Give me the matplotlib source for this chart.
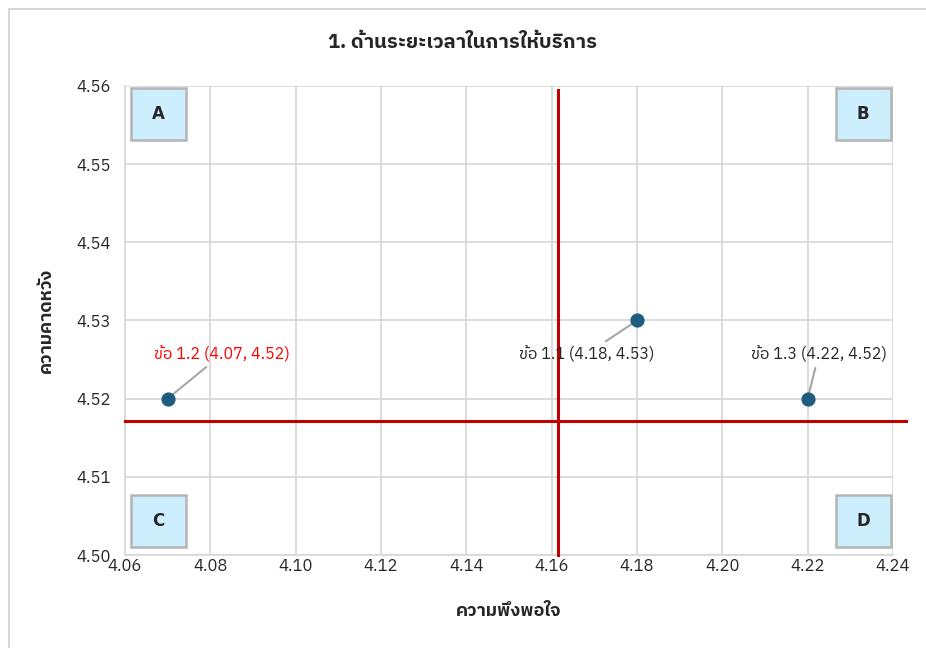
import matplotlib.pyplot as plt
from matplotlib.patches import Rectangle
from matplotlib import font_manager
from matplotlib.ft2font import FT2Font

# find an installed family that has Thai glyphs
thai_family = None
for f in font_manager.fontManager.ttflist:
    try:
        if ord('ก') in FT2Font(f.fname).get_charmap():
            thai_family = f.name
            if 'Sans' in f.name:
                break
    except Exception:
        pass

fams = ['DejaVu Sans']
if thai_family:
    fams = [thai_family, 'DejaVu Sans']
plt.rcParams['font.family'] = fams

# data
labels = ['ข้อ 1.1 (4.18, 4.53)', 'ข้อ 1.2 (4.07, 4.52)', 'ข้อ 1.3 (4.22, 4.52)']
sat = [4.18, 4.07, 4.22]
exp = [4.53, 4.52, 4.52]
label_colors = ['#262626', '#ff0000', '#262626']
label_offsets = [(-36, -24), (39, 32), (8, 32)]
mean_x = 4.1615
mean_y = 4.5171
quadrants = ['A', 'B', 'C', 'D']
xticks = [4.06, 4.08, 4.10, 4.12, 4.14, 4.16, 4.18, 4.20, 4.22, 4.24]
yticks = [4.50, 4.51, 4.52, 4.53, 4.54, 4.55, 4.56]

fig = plt.figure(figsize=(9.26, 6.48), dpi=100)
fig.patches.append(Rectangle((9/926, -0.1), 1.2, 1.1 - 9/648, transform=fig.transFigure,
                             fill=False, edgecolor='#d0d0d0', lw=1.2))
ax = fig.add_axes([125/926, 1 - 555/648, 768/926, 469/648])

ax.set_xlim(4.06, 4.24)
ax.set_ylim(4.50, 4.56)
ax.set_xticks(xticks)
ax.set_yticks(yticks)
ax.set_xticklabels([f'{v:.2f}' for v in xticks])
ax.set_yticklabels([f'{v:.2f}' for v in yticks])
ax.grid(True, color='#d9d9d9', lw=1.3)
ax.set_axisbelow(True)
for s in ['top', 'right']:
    ax.spines[s].set_visible(False)
for s in ['left', 'bottom']:
    ax.spines[s].set_color('#d9d9d9')
    ax.spines[s].set_linewidth(1.3)
ax.tick_params(length=0, labelsize=12, colors='#262626')
ax.tick_params(axis='y', pad=10)
ax.tick_params(axis='x', pad=2.5)

# mean lines
ax.plot([mean_x, mean_x], [4.50, 4.5595], color='#c00000', lw=2.2, zorder=3, clip_on=False)
ax.plot([4.06, 4.243], [mean_y, mean_y], color='#c00000', lw=2.2, zorder=3, clip_on=False)

ax.scatter(sat, exp, s=85, color='#1f5c7f', zorder=5)
for x, y, t, c, off in zip(sat, exp, labels, label_colors, label_offsets):
    ax.annotate(t, (x, y), xytext=off, textcoords='offset points', ha='center', va='center',
                fontsize=11.5, color=c,
                arrowprops=dict(arrowstyle='-', color='#a6a6a6', lw=1.5, shrinkA=2, shrinkB=3))

# quadrant boxes (axes fraction)
bw, bh = 55/768, 52/469
box_pos = [(0.0436, 0.940), (0.961, 0.940), (0.0436, 0.0725), (0.961, 0.0725)]
for q, (bx, by) in zip(quadrants, box_pos):
    ax.add_patch(Rectangle((bx - bw/2, by - bh/2), bw, bh, transform=ax.transAxes,
                           fc='#cdeefc', ec='#b4b4b4', lw=1.8, zorder=6))
    ax.text(bx, by, q, transform=ax.transAxes, ha='center', va='center', fontsize=12,
            fontweight='bold', color='#262626', zorder=7, family='DejaVu Sans')

fig.text(0.5, 1 - 42/648, '1. ด้านระยะเวลาในการให้บริการ', ha='center', va='center',
         fontsize=14.5, fontweight='bold', color='#262626')
ax.set_xlabel('ความพึงพอใจ', fontsize=13, fontweight='bold', color='#262626', labelpad=20)
ax.set_ylabel('ความคาดหวัง', fontsize=13, fontweight='bold', color='#262626', labelpad=16)

fig.savefig('out.png', dpi=100)
